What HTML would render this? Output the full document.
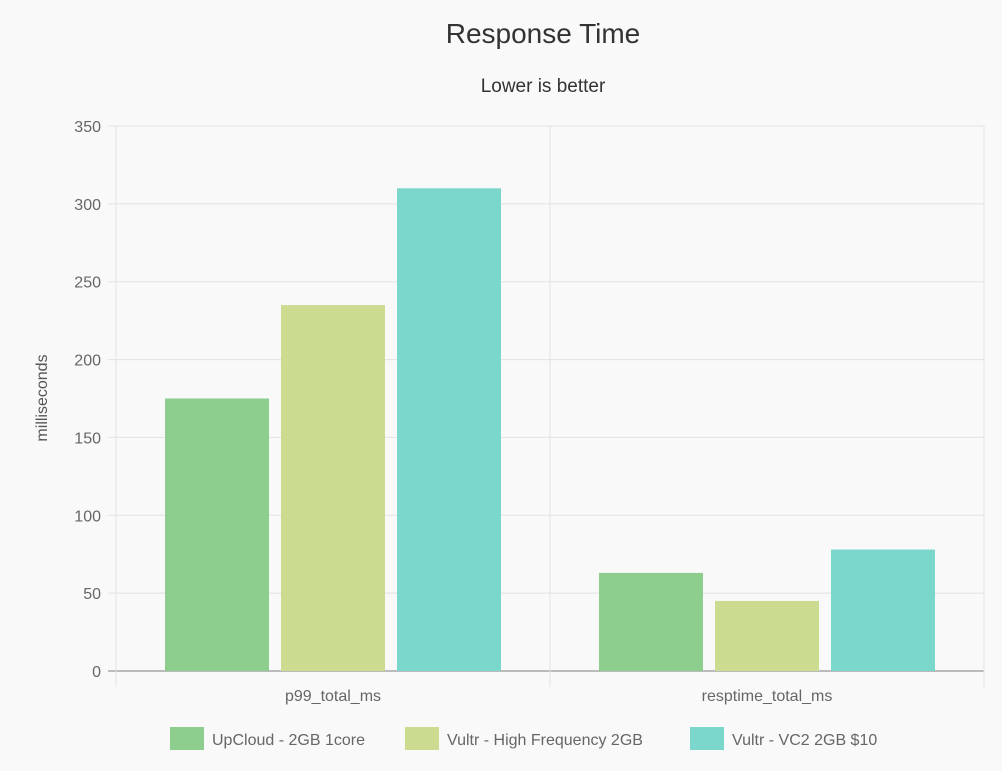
<!DOCTYPE html>
<html><head><meta charset="utf-8"><style>
body{margin:0;background:#f9f9f9;font-family:"Liberation Sans",sans-serif}
svg{display:block}
</style></head><body>
<svg id="c" width="1002" height="771">
<rect width="1002" height="771" fill="#f9f9f9"/>
<text x="543" y="43" text-anchor="middle" font-size="28" fill="#333">Response Time</text>
<text x="543" y="92" text-anchor="middle" font-size="19" fill="#333">Lower is better</text>
<text transform="translate(47,398) rotate(-90)" text-anchor="middle" font-size="16" fill="#555">milliseconds</text>
<g id="grid"></g><g id="bars"></g><g id="legend"></g>
</svg>
<script>
const categories=["p99_total_ms","resptime_total_ms"];
const seriesNames=["UpCloud - 2GB 1core","Vultr - High Frequency 2GB","Vultr - VC2 2GB $10"];
const upcloud=[175,63];
const vultrHF=[235,45];
const vultrVC2=[310,78];
const yTicks=[0,50,100,150,200,250,300,350];
const colors=["#8dcd8d","#cbdc91","#7bd6cc"];
const NS="http://www.w3.org/2000/svg";
const x0=116,x1=984,y0=671,y1=126,yMax=350;
const y=v=>y0-(v/yMax)*(y0-y1);
function mk(t,a,p){const e=document.createElementNS(NS,t);for(const k in a)e.setAttribute(k,a[k]);p.appendChild(e);return e;}
const g=document.getElementById('grid');
yTicks.forEach(t=>{
 const l=mk('line',{x1:108,x2:x1,y1:y(t),y2:y(t),stroke:t===0?'#bbb':'#e2e2e2','stroke-width':t===0?2:1},g);
 
 
 const tx=mk('text',{x:101,y:y(t)+6,'text-anchor':'end','font-size':16,fill:'#666'},g);
 tx.textContent=t;
 
 
});
const cw=(x1-x0)/categories.length;
for(let i=0;i<=categories.length;i++){
 const l=mk('line',{x1:x0+i*cw,x2:x0+i*cw,y1:y1,y2:687,stroke:'#e2e2e2'},g);
 
 
}
const series=[upcloud,vultrHF,vultrVC2];
const b=document.getElementById('bars');
const bw=104,gap=12;
categories.forEach((c,i)=>{
 const cx=x0+cw*(i+0.5);
 const total=3*bw+2*gap;
 series.forEach((s,j)=>{
  const bx=cx-total/2+j*(bw+gap);
  const r=mk('rect',{x:bx,y:y(s[i]),width:bw,height:y0-y(s[i]),fill:colors[j]},b);
  
  
 });
 const t=mk('text',{x:cx,y:701,'text-anchor':'middle','font-size':16,fill:'#666'},b);
 t.textContent=c;
 
 
});
const lg=document.getElementById('legend');
const lx=[170,405,690];
seriesNames.forEach((n,j)=>{
 const r=mk('rect',{x:lx[j],y:727,width:34,height:23,fill:colors[j]},lg);
 
 
 const t=mk('text',{x:lx[j]+42,y:745,'font-size':16,fill:'#666'},lg);
 t.textContent=n;
 
 
});
</script>
</body></html>
